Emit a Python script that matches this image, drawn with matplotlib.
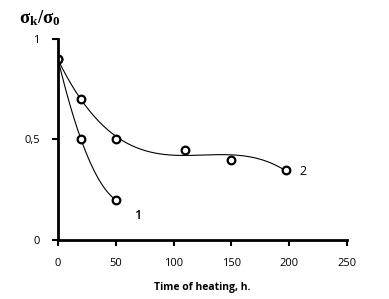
import numpy as np
import matplotlib.pyplot as plt

# series 2 (slower decay)
x2 = [0, 20, 50, 110, 150, 197]
y2 = [0.9, 0.7, 0.5, 0.45, 0.4, 0.35]
# series 1 (fast decay)
x1 = [0, 20, 50]
y1 = [0.9, 0.5, 0.2]

xticks = [0, 50, 100, 150, 200, 250]
yticks = [0, 0.5, 1]
yticklabels = ['0', '0,5', '1']

plt.rcParams['mathtext.fontset'] = 'custom'
plt.rcParams['mathtext.rm'] = 'Liberation Serif:bold'
plt.rcParams['mathtext.it'] = 'Liberation Serif:bold'

fig = plt.figure(figsize=(3.89, 2.99), dpi=100)
ax = fig.add_axes([0.149, 0.197, 0.743, 0.673])

# trendlines
c2 = np.polyfit(x2, y2, 3)
xx2 = np.linspace(0, 197, 200)
ax.plot(xx2, np.polyval(c2, xx2), color='black', lw=0.8)
c1 = np.polyfit(x1, y1, 2)
xx1 = np.linspace(0, 50, 100)
ax.plot(xx1, np.polyval(c1, xx1), color='black', lw=0.8)

ax.plot(x2, y2, 'o', mfc='white', mec='black', mew=1.6, ms=5.5)
ax.plot(x1, y1, 'o', mfc='white', mec='black', mew=1.6, ms=5.5)

ax.text(69, 0.12, '1', fontsize=9, fontfamily='Open Sans', fontweight='semibold', ha='center', va='center')
ax.text(212, 0.34, '2', fontsize=9, fontfamily='Open Sans', ha='center', va='center')

ax.set_xlim(0, 250)
ax.set_ylim(0, 1)
ax.set_xticks(xticks)
ax.set_yticks(yticks)
ax.set_yticklabels(yticklabels)
for lbl in ax.get_xticklabels() + ax.get_yticklabels():
    lbl.set_fontfamily('Open Sans')
    lbl.set_fontsize(8)
ax.tick_params(axis='x', direction='out', length=4, width=1.5, pad=9)
ax.tick_params(axis='y', direction='out', length=4, width=1.5, pad=9)

ax.spines['top'].set_visible(False)
ax.spines['right'].set_visible(False)
ax.spines['left'].set_linewidth(2)
ax.spines['bottom'].set_linewidth(2)

ax.set_xlabel('Time of heating, h.', fontfamily='Open Sans', fontweight='bold', fontsize=7.5, labelpad=9)
fig.text(0.05, 0.94, r'$\mathrm{σ_k/σ_0}$', fontsize=13.5, ha='left', va='center')

fig.savefig('out.png')
